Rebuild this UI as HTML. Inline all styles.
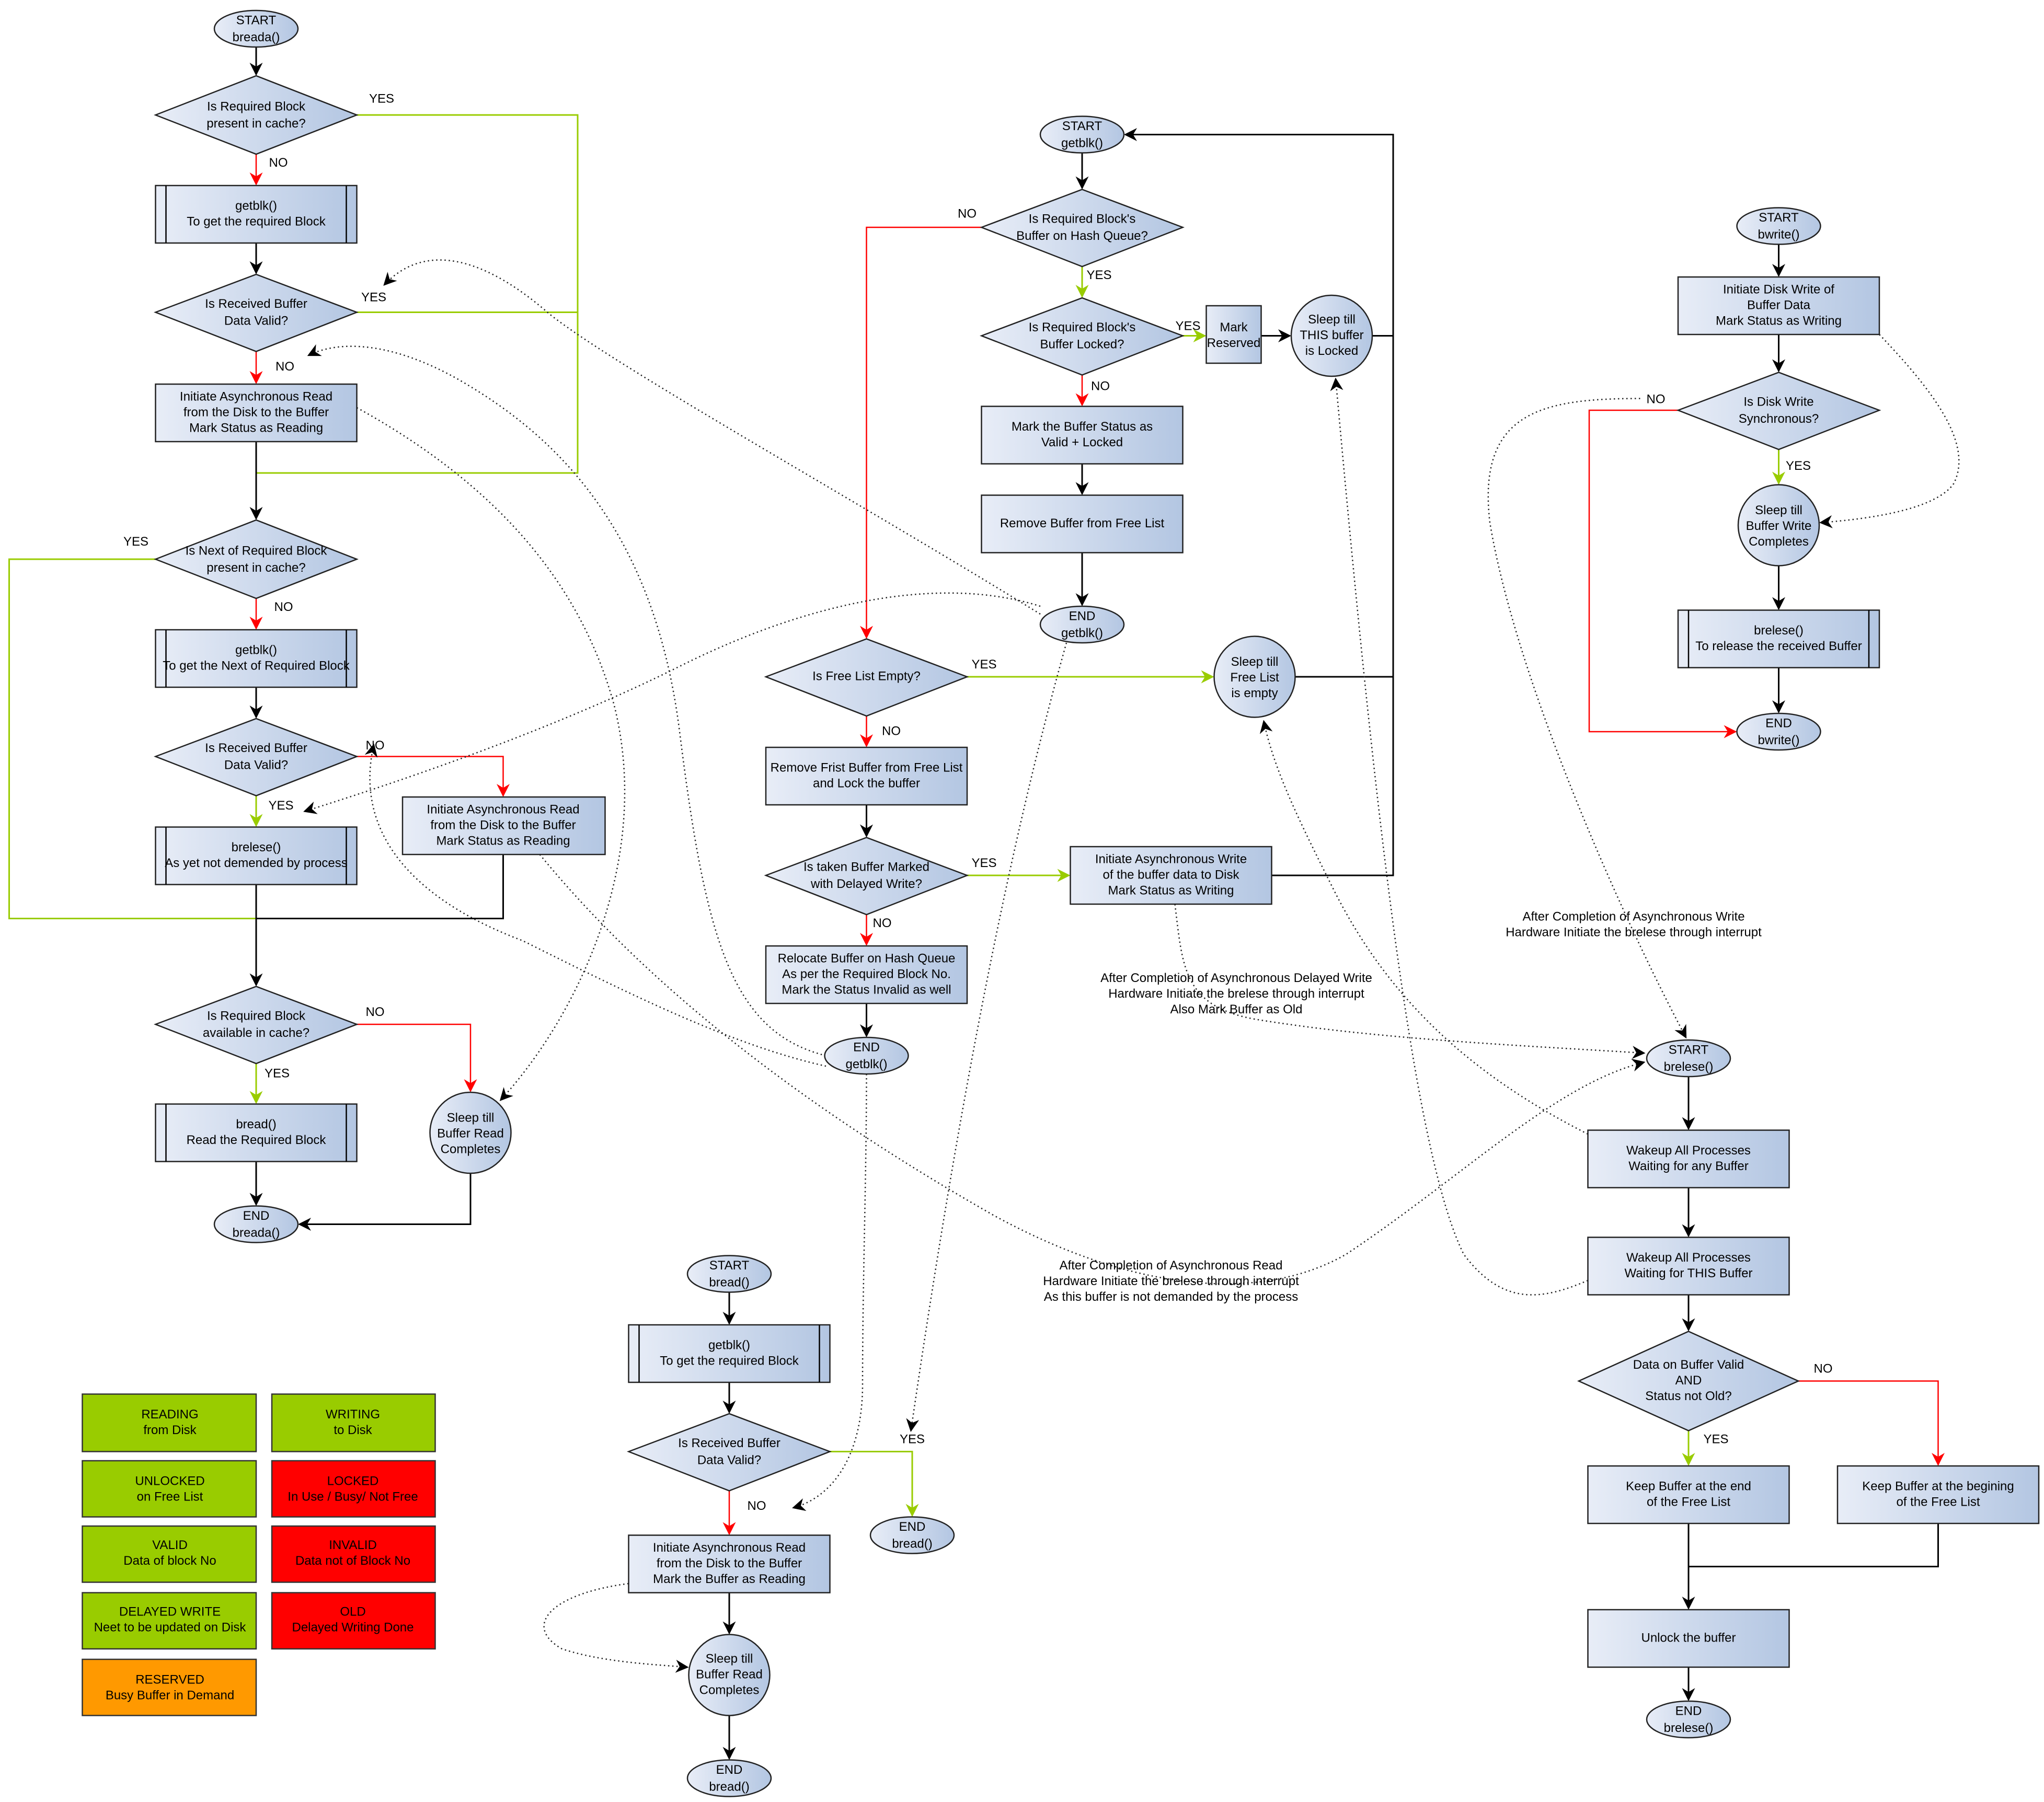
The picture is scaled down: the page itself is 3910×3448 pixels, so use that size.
<!DOCTYPE html>
<html><head><meta charset="utf-8"><style>
html,body{margin:0;padding:0;background:#fff}
svg{display:block}
text{font-family:"Liberation Sans",Arial,sans-serif;font-size:9.6px;fill:#000;text-anchor:middle;dominant-baseline:middle}
.n{fill:url(#g);stroke:#222;stroke-width:1}
.k{stroke:#000;stroke-width:1.2;fill:none}
.r{stroke:#f00;stroke-width:1;fill:none}
.gr{stroke:#99cc00;stroke-width:1.2;fill:none}
.d{stroke:#222;stroke-width:1;fill:none;stroke-dasharray:1 2.2}
</style></head><body>
<svg width="3910" height="3448" viewBox="0 0 1564 1379.2" xmlns="http://www.w3.org/2000/svg">
<defs>
<linearGradient id="g" x1="0" y1="0" x2="1" y2="0"><stop offset="0" stop-color="#e8edf7"/><stop offset="1" stop-color="#b3c6e2"/></linearGradient>
<marker id="ak" markerWidth="10" markerHeight="10" refX="9" refY="5" orient="auto" markerUnits="userSpaceOnUse"><path d="M0,0 L10,5 L0,10 L3,5z" fill="#000"/></marker>
<marker id="ar" markerWidth="10" markerHeight="10" refX="9" refY="5" orient="auto" markerUnits="userSpaceOnUse"><path d="M0,0 L10,5 L0,10 L3,5z" fill="#f00"/></marker>
<marker id="ag" markerWidth="10" markerHeight="10" refX="9" refY="5" orient="auto" markerUnits="userSpaceOnUse"><path d="M0,0 L10,5 L0,10 L3,5z" fill="#99cc00"/></marker>
</defs>

<!-- ===== connectors col1 ===== -->
<path class="k" d="M196,36 V57" marker-end="url(#ak)"/>
<path class="r" d="M196,118 V141" marker-end="url(#ar)"/>
<path class="gr" d="M273,88 H442 V362 H196"/>
<path class="k" d="M196,186 V209" marker-end="url(#ak)"/>
<path class="gr" d="M273,239 H442"/>
<path class="r" d="M196,269 V293" marker-end="url(#ar)"/>
<path class="k" d="M196,338 V397" marker-end="url(#ak)"/>
<path class="gr" d="M119,428 H7 V703 H196"/>
<path class="k" d="M385,654 V703 H196"/>
<path class="r" d="M196,458 V481" marker-end="url(#ar)"/>
<path class="k" d="M196,526 V549" marker-end="url(#ak)"/>
<path class="r" d="M273,579 H385 V609" marker-end="url(#ar)"/>
<path class="gr" d="M196,609 V632" marker-end="url(#ag)"/>
<path class="k" d="M196,677 V754" marker-end="url(#ak)"/>
<path class="r" d="M273,784 H360 V835" marker-end="url(#ar)"/>
<path class="gr" d="M196,814 V844" marker-end="url(#ag)"/>
<path class="k" d="M196,889 V922" marker-end="url(#ak)"/>
<path class="k" d="M360,898 V937 H229" marker-end="url(#ak)"/>

<!-- ===== connectors getblk ===== -->
<path class="k" d="M828,117 V144" marker-end="url(#ak)"/>
<path class="r" d="M751,174 H663 V488" marker-end="url(#ar)"/>
<path class="gr" d="M828,204 V227" marker-end="url(#ag)"/>
<path class="gr" d="M905,257 H922" marker-end="url(#ag)"/>
<path class="k" d="M965,257 H987" marker-end="url(#ak)"/>
<path class="k" d="M1050,257 H1066 V103 H861" marker-end="url(#ak)"/>
<path class="r" d="M828,287 V310" marker-end="url(#ar)"/>
<path class="k" d="M828,355 V378" marker-end="url(#ak)"/>
<path class="k" d="M828,423 V463" marker-end="url(#ak)"/>
<path class="gr" d="M740,518 H928" marker-end="url(#ag)"/>
<path class="k" d="M991,518 H1066 V257"/>
<path class="r" d="M663,548 V571" marker-end="url(#ar)"/>
<path class="k" d="M663,616 V640" marker-end="url(#ak)"/>
<path class="gr" d="M740,670 H818" marker-end="url(#ag)"/>
<path class="k" d="M973,670 H1066 V518"/>
<path class="r" d="M663,700 V723" marker-end="url(#ar)"/>
<path class="k" d="M663,768 V793" marker-end="url(#ak)"/>

<!-- ===== connectors bread ===== -->
<path class="k" d="M558,989 V1013" marker-end="url(#ak)"/>
<path class="k" d="M558,1058 V1081" marker-end="url(#ak)"/>
<path class="gr" d="M635,1111 H698 V1160" marker-end="url(#ag)"/>
<path class="r" d="M558,1141 V1174" marker-end="url(#ar)"/>
<path class="k" d="M558,1219 V1250" marker-end="url(#ak)"/>
<path class="k" d="M558,1313 V1346" marker-end="url(#ak)"/>

<!-- ===== connectors bwrite ===== -->
<path class="k" d="M1361,187 V211" marker-end="url(#ak)"/>
<path class="k" d="M1361,256 V284" marker-end="url(#ak)"/>
<path class="gr" d="M1361,344 V370" marker-end="url(#ag)"/>
<path class="r" d="M1284,314 H1216 V560 H1328" marker-end="url(#ar)"/>
<path class="k" d="M1361,433 V466" marker-end="url(#ak)"/>
<path class="k" d="M1361,511 V545" marker-end="url(#ak)"/>

<!-- ===== connectors brelese ===== -->
<path class="k" d="M1292,824 V864" marker-end="url(#ak)"/>
<path class="k" d="M1292,909 V946" marker-end="url(#ak)"/>
<path class="k" d="M1292,991 V1018" marker-end="url(#ak)"/>
<path class="gr" d="M1292,1095 V1121" marker-end="url(#ag)"/>
<path class="r" d="M1376,1057 H1483 V1121" marker-end="url(#ar)"/>
<path class="k" d="M1292,1166 V1231" marker-end="url(#ak)"/>
<path class="k" d="M1483,1166 V1199 H1292"/>
<path class="k" d="M1292,1276 V1301" marker-end="url(#ak)"/>

<!-- ===== dotted curves ===== -->
<path class="d" d="M796,470 C650,380 470,280 420,240 C380,205 330,180 294,218" marker-end="url(#ak)"/>
<path class="d" d="M632,808 C560,790 540,720 520,560 C500,400 420,330 350,290 C300,262 260,260 236,272" marker-end="url(#ak)"/>
<path class="d" d="M273,312 C360,360 440,430 470,540 C500,660 440,780 383,842" marker-end="url(#ak)"/>
<path class="d" d="M796,464 C720,440 620,460 520,510 C420,560 300,600 233,621" marker-end="url(#ak)"/>
<path class="d" d="M632,816 C560,800 480,760 400,720 C320,690 270,640 286,570" marker-end="url(#ak)"/>
<path class="d" d="M816,492 C780,620 740,800 697,1095" marker-end="url(#ak)"/>
<path class="d" d="M663,822 C663,900 660,980 660,1060 C660,1110 640,1145 607,1154" marker-end="url(#ak)"/>
<path class="d" d="M481,1212 C420,1220 400,1245 430,1262 C460,1272 500,1274 526,1276" marker-end="url(#ak)"/>
<path class="d" d="M1438,256 C1480,300 1510,340 1495,370 C1480,392 1420,398 1393,400" marker-end="url(#ak)"/>
<path class="d" d="M413,654 C500,760 620,850 760,930 C860,985 960,1000 1030,960 C1120,900 1190,830 1258,813" marker-end="url(#ak)"/>
<path class="d" d="M899,692 C905,740 905,770 960,780 C1050,795 1160,800 1258,806" marker-end="url(#ak)"/>
<path class="d" d="M1255,305 C1180,305 1130,315 1140,400 C1160,520 1240,700 1290,794" marker-end="url(#ak)"/>
<path class="d" d="M1215,868 C1120,820 1060,760 1020,680 C995,630 975,590 967,552" marker-end="url(#ak)"/>
<path class="d" d="M1215,980 C1180,995 1150,1000 1120,960 C1080,880 1050,600 1022,290" marker-end="url(#ak)"/>

<!-- ===== nodes col1 ===== -->
<ellipse class="n" cx="196" cy="22" rx="32" ry="14"/><text x="196" y="16">START</text><text x="196" y="29">breada()</text>
<polygon class="n" points="119,88 196,58 273,88 196,118"/><text x="196" y="82">Is Required Block</text><text x="196" y="95">present in cache?</text>
<rect class="n" x="119" y="142" width="154" height="44"/><path class="k" d="M127,142V186M265,142V186" style="stroke-width:1"/><text x="196" y="158">getblk()</text><text x="196" y="170">To get the required Block</text>
<polygon class="n" points="119,239 196,210 273,239 196,269"/><text x="196" y="233">Is Received Buffer</text><text x="196" y="246">Data Valid?</text>
<rect class="n" x="119" y="294" width="154" height="44"/><text x="196" y="304">Initiate Asynchronous Read</text><text x="196" y="316">from the Disk to the Buffer</text><text x="196" y="328">Mark Status as Reading</text>
<polygon class="n" points="119,428 196,398 273,428 196,458"/><text x="196" y="422">Is Next of Required Block</text><text x="196" y="435">present in cache?</text>
<rect class="n" x="119" y="482" width="154" height="44"/><path class="k" d="M127,482V526M265,482V526" style="stroke-width:1"/><text x="196" y="498">getblk()</text><text x="196" y="510">To get the Next of Required Block</text>
<polygon class="n" points="119,579 196,550 273,579 196,609"/><text x="196" y="573">Is Received Buffer</text><text x="196" y="586">Data Valid?</text>
<rect class="n" x="308" y="610" width="155" height="44"/><text x="385" y="620">Initiate Asynchronous Read</text><text x="385" y="632">from the Disk to the Buffer</text><text x="385" y="644">Mark Status as Reading</text>
<rect class="n" x="119" y="633" width="154" height="44"/><path class="k" d="M127,633V677M265,633V677" style="stroke-width:1"/><text x="196" y="649">brelese()</text><text x="196" y="661">As yet not demended by process</text>
<polygon class="n" points="119,784 196,755 273,784 196,814"/><text x="196" y="778">Is Required Block</text><text x="196" y="791">available in cache?</text>
<rect class="n" x="119" y="845" width="154" height="44"/><path class="k" d="M127,845V889M265,845V889" style="stroke-width:1"/><text x="196" y="861">bread()</text><text x="196" y="873">Read the Required Block</text>
<circle class="n" cx="360" cy="867" r="31"/><text x="360" y="856">Sleep till</text><text x="360" y="868">Buffer Read</text><text x="360" y="880">Completes</text>
<ellipse class="n" cx="196" cy="937" rx="32" ry="14"/><text x="196" y="931">END</text><text x="196" y="944">breada()</text>

<!-- ===== nodes getblk ===== -->
<ellipse class="n" cx="828" cy="103" rx="32" ry="14"/><text x="828" y="97">START</text><text x="828" y="110">getblk()</text>
<polygon class="n" points="751,174 828,145 905,174 828,204"/><text x="828" y="168">Is Required Block's</text><text x="828" y="181">Buffer on Hash Queue?</text>
<polygon class="n" points="751,257 828,228 905,257 828,287"/><text x="828" y="251">Is Required Block's</text><text x="828" y="264">Buffer Locked?</text>
<rect class="n" x="923" y="234" width="42" height="44"/><text x="944" y="251">Mark</text><text x="944" y="263">Reserved</text>
<circle class="n" cx="1019" cy="257" r="31"/><text x="1019" y="245">Sleep till</text><text x="1019" y="257">THIS buffer</text><text x="1019" y="269">is Locked</text>
<rect class="n" x="751" y="311" width="154" height="44"/><text x="828" y="327">Mark the Buffer Status as</text><text x="828" y="339">Valid + Locked</text>
<rect class="n" x="751" y="379" width="154" height="44"/><text x="828" y="401">Remove Buffer from Free List</text>
<ellipse class="n" cx="828" cy="478" rx="32" ry="14"/><text x="828" y="472">END</text><text x="828" y="485">getblk()</text>
<polygon class="n" points="586,518 663,489 740,518 663,548"/><text x="663" y="518">Is Free List Empty?</text>
<circle class="n" cx="960" cy="518" r="31"/><text x="960" y="507">Sleep till</text><text x="960" y="519">Free List</text><text x="960" y="531">is empty</text>
<rect class="n" x="586" y="572" width="154" height="44"/><text x="663" y="588">Remove Frist Buffer from Free List</text><text x="663" y="600">and Lock the buffer</text>
<polygon class="n" points="586,670 663,641 740,670 663,700"/><text x="663" y="664">Is taken Buffer Marked</text><text x="663" y="677">with Delayed Write?</text>
<rect class="n" x="819" y="648" width="154" height="44"/><text x="896" y="658">Initiate Asynchronous Write</text><text x="896" y="670">of the buffer data to Disk</text><text x="896" y="682">Mark Status as Writing</text>
<rect class="n" x="586" y="724" width="154" height="44"/><text x="663" y="734">Relocate Buffer on Hash Queue</text><text x="663" y="746">As per the Required Block No.</text><text x="663" y="758">Mark the Status Invalid as well</text>
<ellipse class="n" cx="663" cy="808" rx="32" ry="14"/><text x="663" y="802">END</text><text x="663" y="815">getblk()</text>

<!-- ===== nodes bread ===== -->
<ellipse class="n" cx="558" cy="975" rx="32" ry="14"/><text x="558" y="969">START</text><text x="558" y="982">bread()</text>
<rect class="n" x="481" y="1014" width="154" height="44"/><path class="k" d="M489,1014V1058M627,1014V1058" style="stroke-width:1"/><text x="558" y="1030">getblk()</text><text x="558" y="1042">To get the required Block</text>
<polygon class="n" points="481,1111 558,1082 635,1111 558,1141"/><text x="558" y="1105">Is Received Buffer</text><text x="558" y="1118">Data Valid?</text>
<ellipse class="n" cx="698" cy="1175" rx="32" ry="14"/><text x="698" y="1169">END</text><text x="698" y="1182">bread()</text>
<rect class="n" x="481" y="1175" width="154" height="44"/><text x="558" y="1185">Initiate Asynchronous Read</text><text x="558" y="1197">from the Disk to the Buffer</text><text x="558" y="1209">Mark the Buffer as Reading</text>
<circle class="n" cx="558" cy="1282" r="31"/><text x="558" y="1270">Sleep till</text><text x="558" y="1282">Buffer Read</text><text x="558" y="1294">Completes</text>
<ellipse class="n" cx="558" cy="1361" rx="32" ry="14"/><text x="558" y="1355">END</text><text x="558" y="1368">bread()</text>

<!-- ===== nodes bwrite ===== -->
<ellipse class="n" cx="1361" cy="173" rx="32" ry="14"/><text x="1361" y="167">START</text><text x="1361" y="180">bwrite()</text>
<rect class="n" x="1284" y="212" width="154" height="44"/><text x="1361" y="222">Initiate Disk Write of</text><text x="1361" y="234">Buffer Data</text><text x="1361" y="246">Mark Status as Writing</text>
<polygon class="n" points="1284,314 1361,285 1438,314 1361,344"/><text x="1361" y="308">Is Disk Write</text><text x="1361" y="321">Synchronous?</text>
<circle class="n" cx="1361" cy="402" r="31"/><text x="1361" y="391">Sleep till</text><text x="1361" y="403">Buffer Write</text><text x="1361" y="415">Completes</text>
<rect class="n" x="1284" y="467" width="154" height="44"/><path class="k" d="M1292,467V511M1430,467V511" style="stroke-width:1"/><text x="1361" y="483">brelese()</text><text x="1361" y="495">To release the received Buffer</text>
<ellipse class="n" cx="1361" cy="560" rx="32" ry="14"/><text x="1361" y="554">END</text><text x="1361" y="567">bwrite()</text>

<!-- ===== nodes brelese ===== -->
<ellipse class="n" cx="1292" cy="810" rx="32" ry="14"/><text x="1292" y="804">START</text><text x="1292" y="817">brelese()</text>
<rect class="n" x="1215" y="865" width="154" height="44"/><text x="1292" y="881">Wakeup All Processes</text><text x="1292" y="893">Waiting for any Buffer</text>
<rect class="n" x="1215" y="947" width="154" height="44"/><text x="1292" y="963">Wakeup All Processes</text><text x="1292" y="975">Waiting for THIS Buffer</text>
<polygon class="n" points="1208,1057 1292,1019 1376,1057 1292,1095"/><text x="1292" y="1045">Data on Buffer Valid</text><text x="1292" y="1057">AND</text><text x="1292" y="1069">Status not Old?</text>
<rect class="n" x="1215" y="1122" width="154" height="44"/><text x="1292" y="1138">Keep Buffer at the end</text><text x="1292" y="1150">of the Free List</text>
<rect class="n" x="1406" y="1122" width="154" height="44"/><text x="1483" y="1138">Keep Buffer at the begining</text><text x="1483" y="1150">of the Free List</text>
<rect class="n" x="1215" y="1232" width="154" height="44"/><text x="1292" y="1254">Unlock the buffer</text>
<ellipse class="n" cx="1292" cy="1316" rx="32" ry="14"/><text x="1292" y="1310">END</text><text x="1292" y="1323">brelese()</text>

<!-- ===== edge labels ===== -->
<text x="292" y="76">YES</text><text x="213" y="125">NO</text>
<text x="286" y="228">YES</text><text x="218" y="281">NO</text>
<text x="104" y="415">YES</text><text x="217" y="465">NO</text>
<text x="287" y="571">NO</text><text x="215" y="617">YES</text>
<text x="287" y="775">NO</text><text x="212" y="822">YES</text>
<text x="740" y="164">NO</text><text x="841" y="211">YES</text>
<text x="909" y="250">YES</text><text x="842" y="296">NO</text>
<text x="753" y="509">YES</text><text x="682" y="560">NO</text>
<text x="753" y="661">YES</text><text x="675" y="707">NO</text>
<text x="698" y="1102">YES</text><text x="579" y="1153">NO</text>
<text x="1267" y="306">NO</text><text x="1376" y="357">YES</text>
<text x="1395" y="1048">NO</text><text x="1313" y="1102">YES</text>

<text x="1250" y="702">After Completion of Asynchronous Write</text>
<text x="1250" y="714">Hardware Initiate the brelese through interrupt</text>
<text x="946" y="749">After Completion of Asynchronous Delayed Write</text>
<text x="946" y="761">Hardware Initiate the brelese through interrupt</text>
<text x="946" y="773">Also Mark Buffer as Old</text>
<text x="896" y="969">After Completion of Asynchronous Read</text>
<text x="896" y="981">Hardware Initiate the brelese through interrupt</text>
<text x="896" y="993">As this buffer is not demanded by the process</text>

<!-- ===== legend ===== -->
<g style="stroke:#333;stroke-width:1">
<rect x="63" y="1067" width="133" height="44" fill="#99cc00"/>
<rect x="208" y="1067" width="125" height="44" fill="#99cc00"/>
<rect x="63" y="1118" width="133" height="43" fill="#99cc00"/>
<rect x="208" y="1118" width="125" height="43" fill="#ff0000"/>
<rect x="63" y="1168" width="133" height="43" fill="#99cc00"/>
<rect x="208" y="1168" width="125" height="43" fill="#ff0000"/>
<rect x="63" y="1219" width="133" height="43" fill="#99cc00"/>
<rect x="208" y="1219" width="125" height="43" fill="#ff0000"/>
<rect x="63" y="1270" width="133" height="43" fill="#ff9900"/>
</g>
<text x="130" y="1083">READING</text><text x="130" y="1095">from Disk</text>
<text x="270" y="1083">WRITING</text><text x="270" y="1095">to Disk</text>
<text x="130" y="1134">UNLOCKED</text><text x="130" y="1146">on Free List</text>
<text x="270" y="1134">LOCKED</text><text x="270" y="1146">In Use / Busy/ Not Free</text>
<text x="130" y="1183">VALID</text><text x="130" y="1195">Data of block No</text>
<text x="270" y="1183">INVALID</text><text x="270" y="1195">Data not of Block No</text>
<text x="130" y="1234">DELAYED WRITE</text><text x="130" y="1246">Neet to be updated on Disk</text>
<text x="270" y="1234">OLD</text><text x="270" y="1246">Delayed Writing Done</text>
<text x="130" y="1286">RESERVED</text><text x="130" y="1298">Busy Buffer in Demand</text>
</svg>
</body></html>
